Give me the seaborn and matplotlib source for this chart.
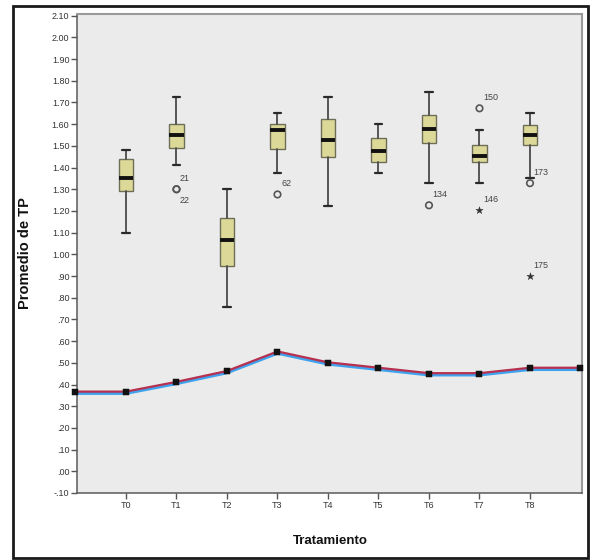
import matplotlib
matplotlib.use("Agg")
import matplotlib.pyplot as plt
import matplotlib.transforms as mtransforms
from matplotlib.patches import Rectangle
import numpy as np
import pandas as pd
import seaborn as sns

# ---- data ----
treatments = ["T0", "T1", "T2", "T3", "T4", "T5", "T6", "T7", "T8"]
whisker_low = [1.10, 1.41, 0.755, 1.375, 1.225, 1.375, 1.33, 1.33, 1.35]
q1 = [1.29, 1.49, 0.945, 1.487, 1.45, 1.427, 1.514, 1.427, 1.503]
median = [1.35, 1.55, 1.066, 1.575, 1.525, 1.477, 1.577, 1.452, 1.552]
q3 = [1.44, 1.60, 1.167, 1.60, 1.625, 1.537, 1.641, 1.503, 1.598]
whisker_high = [1.48, 1.724, 1.30, 1.65, 1.727, 1.60, 1.75, 1.575, 1.65]

# outliers: treatment index, value, case id, kind ("o" mild, "*" extreme), label side
outlier_pos = [1, 1, 3, 6, 7, 7, 8, 8]
outlier_val = [1.30, 1.30, 1.276, 1.226, 1.673, 1.203, 1.328, 0.90]
outlier_id = ["21", "22", "62", "134", "150", "146", "173", "175"]
outlier_kind = ["o", "o", "o", "o", "o", "*", "o", "*"]
outlier_side = ["up", "down", "up", "up", "up", "up", "up", "up"]

# mean TP trend across the axis positions
trend_pos = [-1, 0, 1, 2, 3, 4, 5, 6, 7, 8, 9]
trend_val = [0.365, 0.365, 0.41, 0.46, 0.55, 0.50, 0.475, 0.45, 0.45, 0.475, 0.475]

y_ticks = [round(-0.10 + 0.10 * i, 2) for i in range(23)]

# ---- style ----
sns.set_theme(style="white")
plt.rcParams["font.family"] = ["Liberation Sans", "DejaVu Sans"]

W, H = 592, 560
fig = plt.figure(figsize=(W / 100, H / 100), dpi=100)
fig.patch.set_facecolor("white")
ax = fig.add_axes([77 / W, 1 - 493 / H, (582 - 77) / W, (493 - 13.5) / H])
ax.set_facecolor("#ebebeb")

# ---- boxes ----
stats = []
for i, t in enumerate(treatments):
    stats.append(dict(label=t, whislo=whisker_low[i], q1=q1[i], med=median[i],
                      q3=q3[i], whishi=whisker_high[i], fliers=[]))
ax.bxp(stats, positions=list(range(len(treatments))), widths=0.29,
       patch_artist=True, showfliers=False, manage_ticks=False,
       boxprops=dict(facecolor="#dcd898", edgecolor="#6e6e58", linewidth=1.0),
       medianprops=dict(color="#111111", linewidth=2.8),
       whiskerprops=dict(color="#4a4a4a", linewidth=1.3),
       capprops=dict(color="#2a2a2a", linewidth=1.6),
       capwidths=0.15)

# ---- outliers ----
odf = pd.DataFrame({"pos": outlier_pos, "val": outlier_val,
                    "kind": outlier_kind, "id": outlier_id, "side": outlier_side})
mild = odf[odf["kind"] == "o"]
extreme = odf[odf["kind"] == "*"]
sns.scatterplot(data=mild, x="pos", y="val", ax=ax, marker="o", s=22,
                facecolor="none", edgecolor="#555555", linewidth=1.2, zorder=4)
sns.scatterplot(data=extreme, x="pos", y="val", ax=ax, marker="*", s=30,
                color="#333333", edgecolor="#333333", linewidth=0.3, zorder=4)
for _, r in odf.iterrows():
    dy = 0.05 if r["side"] == "up" else -0.05
    ax.text(r["pos"] + 0.07, r["val"] + dy, r["id"], fontsize=6.5,
            color="#444444", ha="left", va="center", zorder=5)

# ---- trend line (red over blue, as a doubled line) ----
tdf = pd.DataFrame({"pos": trend_pos, "val": trend_val})
blue_tr = mtransforms.offset_copy(ax.transData, fig=fig, x=0, y=-1.0, units="dots")
red_tr = mtransforms.offset_copy(ax.transData, fig=fig, x=0, y=0.5, units="dots")
sns.lineplot(data=tdf, x="pos", y="val", ax=ax, color="#3fa2ee", linewidth=2.6,
             transform=blue_tr, zorder=3, clip_on=False)
sns.lineplot(data=tdf, x="pos", y="val", ax=ax, color="#b8304f", linewidth=1.6,
             transform=red_tr, zorder=3, clip_on=False)
sns.scatterplot(data=tdf, x="pos", y="val", ax=ax, marker="s", s=18,
                color="#111111", edgecolor="#111111", zorder=6, clip_on=False)

# ---- axes ----
ax.set_xlim(-0.97, 9.03)
ax.set_ylim(-0.10, 2.11)
ax.set_xticks(range(len(treatments)))
ax.set_xticklabels(treatments)
ax.set_yticks(y_ticks)


def spss_fmt(v):
    s = f"{v:.2f}"
    if s.startswith("0."):
        s = s[1:]
    elif s.startswith("-0."):
        s = "-" + s[2:]
    return s


ax.set_yticklabels([spss_fmt(v) for v in y_ticks])
ax.tick_params(axis="both", which="major", direction="out", length=4, width=1.0,
               color="#555555", labelsize=6.5, labelcolor="#333333", pad=1.5,
               left=True, bottom=True)

for side in ["left", "bottom"]:
    ax.spines[side].set_color("#5a5a5a")
    ax.spines[side].set_linewidth(1.1)
for side in ["top", "right"]:
    ax.spines[side].set_color("#9a9a9a")
    ax.spines[side].set_linewidth(1.5)

ax.set_xlabel("Tratamiento", fontsize=9.5, fontweight="bold", color="#111111")
ax.set_ylabel("Promedio de TP", fontsize=10.5, fontweight="bold", color="#111111")
ax.xaxis.set_label_coords((330 - 77) / 505, (493 - 535) / 479.5)
ax.yaxis.set_label_coords((32 - 77) / 505, 0.5)

# outer frame around the whole figure
fig.add_artist(Rectangle((13 / W, 1 - 558 / H), (588 - 13) / W, (558 - 6) / H,
                         transform=fig.transFigure, fill=False,
                         edgecolor="#1a1a1a", linewidth=2.0))

fig.savefig("out.png", dpi=100, facecolor="white")
